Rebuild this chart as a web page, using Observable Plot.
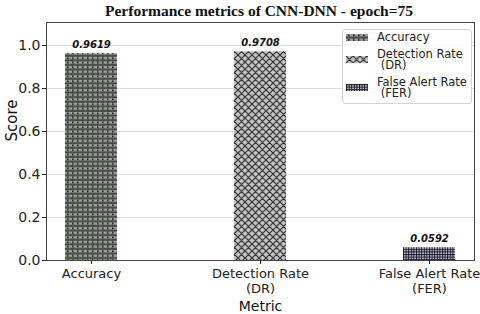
<!DOCTYPE html>
<html><head><meta charset="utf-8">
<script src="https://cdn.jsdelivr.net/npm/d3@7"></script>
<script src="https://cdn.jsdelivr.net/npm/@observablehq/plot@0.6"></script>
<style>
body{margin:0;background:#fff;width:480px;height:314px;position:relative;overflow:hidden;font-family:"DejaVu Sans",sans-serif;}
#title{position:absolute;left:19px;top:2px;width:480px;text-align:center;font:bold 15.5px "Liberation Serif",serif;color:#111;}
#chart{position:absolute;left:0;top:20px;}
#legend{position:absolute;left:342px;top:29px;width:128px;height:73px;border:1px solid #d4d4d4;border-radius:3px;background:rgba(255,255,255,0.85);font-size:11.5px;color:#222;}
.entry{position:absolute;left:0;display:flex;align-items:center;}
.entry svg{margin-left:3px;margin-right:9px;}
.lbl{line-height:10.5px;}
</style></head>
<body>
<svg width="0" height="0" style="position:absolute">
<defs>
<pattern id="pAcc" width="5" height="4.6" patternUnits="userSpaceOnUse">
<rect width="5" height="4.6" fill="#484d48"/>
<rect y="0" width="5" height="2.4" fill="#9da298"/>
<rect x="2" y="0.5" width="1.5" height="1.5" fill="#111"/>
</pattern>
<pattern id="pDR" width="7" height="7" patternUnits="userSpaceOnUse">
<rect width="7" height="7" fill="#c2c2c2"/>
<path d="M0,0L7,7M0,7L7,0M-1,6L1,8M6,-1L8,1M-1,1L1,-1M6,8L8,6" stroke="#333" stroke-width="1.2"/>
</pattern>
<pattern id="pFER" width="2.6" height="2.6" patternUnits="userSpaceOnUse">
<rect width="2.6" height="2.6" fill="#d0d0dc"/>
<path d="M0,0.5H2.6M0.5,0V2.6" stroke="#1a1a2a" stroke-width="1"/>
</pattern>
</defs>
</svg>
<div id="title">Performance metrics of CNN-DNN - epoch=75</div>
<div id="chart"></div>
<div id="legend"></div>
<script>
const metrics = ["Accuracy", "Detection Rate (DR)", "False Alert Rate (FER)"];
const tickLabels = ["Accuracy", "Detection Rate\n(DR)", "False Alert Rate\n(FER)"];
const legendLabels = ["Accuracy", "Detection Rate\n (DR)", "False Alert Rate\n (FER)"];
const scores = [0.9619, 0.9708, 0.0592];
const yTicks = [0, 0.2, 0.4, 0.6, 0.8, 1.0];
const patterns = ["url(#pAcc)", "url(#pDR)", "url(#pFER)"];

const data = metrics.map((m, i) => ({metric: m, score: scores[i]}));

const plot = Plot.plot({
  width: 480,
  height: 294,
  marginLeft: 46,
  marginRight: 6,
  marginTop: 2,
  marginBottom: 54,
  style: {fontFamily: "DejaVu Sans, sans-serif", color: "#222", background: "transparent"},
  x: {domain: metrics, paddingInner: 0.694, paddingOuter: 0.106, label: null},
  y: {domain: [0, 1.107], label: null},
  color: {type: "ordinal", domain: metrics, range: patterns},
  marks: [
    Plot.gridY(yTicks, {stroke: "#d0d0d0", strokeOpacity: 1, strokeWidth: 0.8}),
    Plot.barY(data, {x: "metric", y: "score", fill: "metric"}),
    Plot.text(data, {x: "metric", y: "score", text: d => d.score.toFixed(4), dy: -9, fontSize: 10, fontWeight: "bold", fontStyle: "italic", fill: "#111"}),
    Plot.frame({stroke: "#444", strokeWidth: 1}),
    Plot.axisY({ticks: yTicks, tickFormat: d3.format(".1f"), tickSize: 4, tickPadding: 2, fontSize: 14, label: null}),
    Plot.axisX({tickFormat: (d) => tickLabels[metrics.indexOf(d)], tickSize: 4, tickPadding: 4, fontSize: 13, lineHeight: 1.08, label: null}),
    Plot.text(["Metric"], {frameAnchor: "bottom", dy: 50, text: d => d, fontSize: 14, fill: "#111"}),
    Plot.text(["Score"], {frameAnchor: "left", dx: -34, rotate: -90, text: d => d, fontSize: 15, fill: "#111"})
  ]
});
document.getElementById("chart").appendChild(plot);

const leg = document.getElementById("legend");
const tops = [2, 19, 47];
metrics.forEach((m, i) => {
  const e = document.createElement("div");
  e.className = "entry";
  e.style.top = tops[i] + "px";
  e.innerHTML = `<svg width="22" height="7"><rect width="22" height="7" fill="${patterns[i]}"/></svg>`;
  const t = document.createElement("div");
  t.className = "lbl";
  t.style.whiteSpace = "pre";
  t.textContent = legendLabels[i];
  e.appendChild(t);
  leg.appendChild(e);
});
</script>
</body></html>
